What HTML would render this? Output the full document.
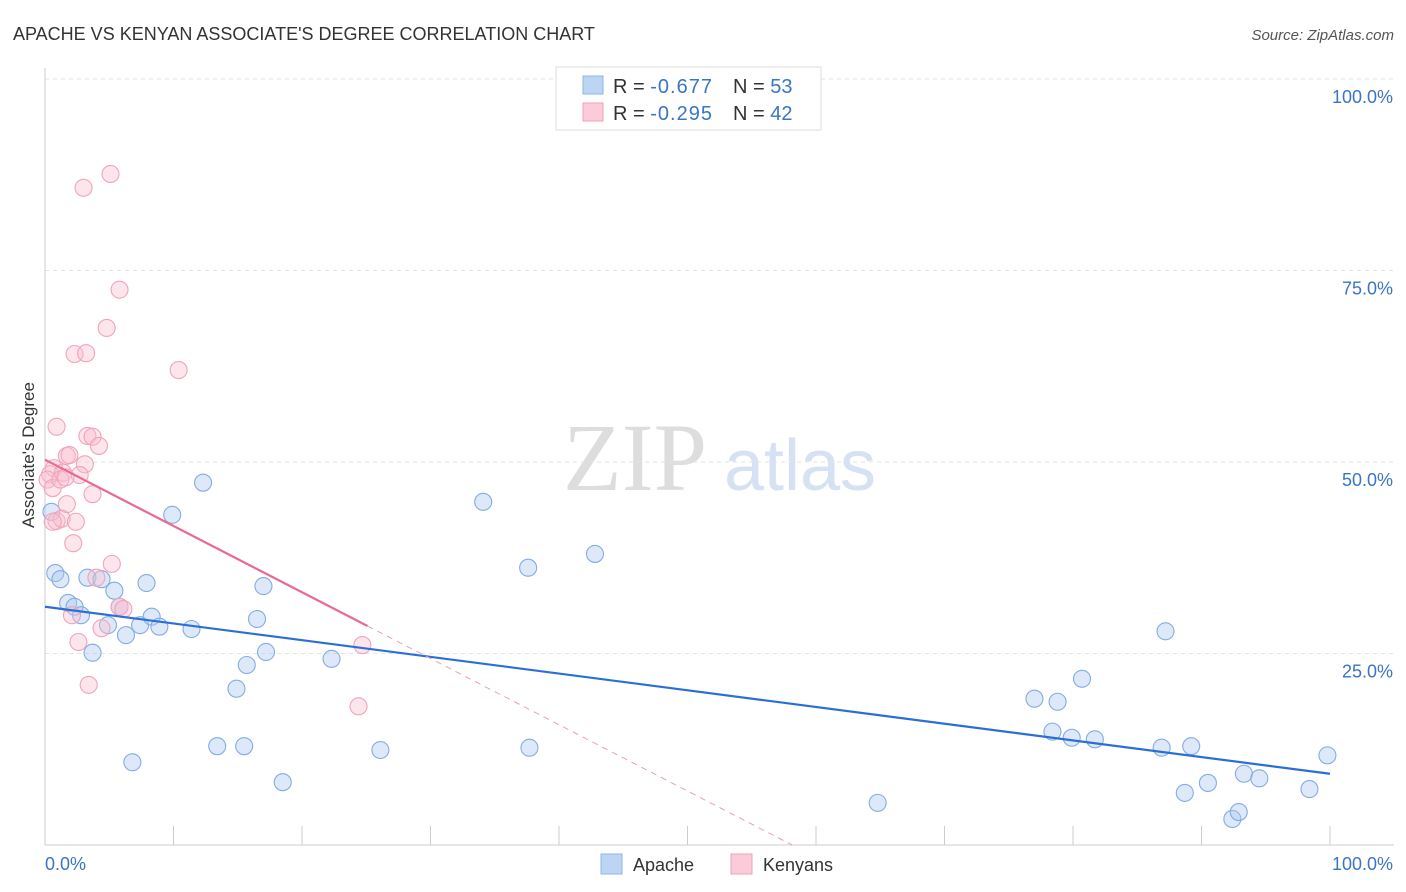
<!DOCTYPE html>
<html><head><meta charset="utf-8">
<style>
body{margin:0;background:#fff;font-family:"Liberation Sans",sans-serif;}
#wrap{position:relative;width:1406px;height:892px;overflow:hidden;}
</style></head>
<body><div id="wrap">
<svg id="svg" width="1406" height="892" xmlns="http://www.w3.org/2000/svg">
<text x="13" y="40" font-size="18" fill="#333">APACHE VS KENYAN ASSOCIATE'S DEGREE CORRELATION CHART</text>
<text x="1394" y="40" font-size="15" fill="#555" font-style="italic" text-anchor="end">Source: ZipAtlas.com</text>
<text x="635" y="490" font-size="96" fill="#ddd" font-family="Liberation Serif, serif" text-anchor="middle">ZIP</text>
<text x="800" y="490" font-size="72" fill="#d6e2f3" text-anchor="middle">atlas</text>
<text transform="translate(34,455) rotate(-90)" font-size="17" fill="#333" text-anchor="middle">Associate's Degree</text>
<g id="grid"></g><g id="pts"></g><g id="lines"></g>
<g>
<rect x="556" y="67" width="265" height="63" fill="#fff" stroke="#ddd"/>
<rect x="583" y="76" width="20" height="18" fill="#bcd5f5" stroke="#8fb4e6"/>
<rect x="583" y="103" width="20" height="18" fill="#fbcbd9" stroke="#f0a0b8"/>
<text x="613" y="93" font-size="20" fill="#333">R = <tspan fill="#3a75c4" letter-spacing="1">-0.677</tspan></text>
<text x="733" y="93" font-size="20" fill="#333">N = <tspan fill="#3a75c4">53</tspan></text>
<text x="613" y="120" font-size="20" fill="#333">R = <tspan fill="#3a75c4" letter-spacing="1">-0.295</tspan></text>
<text x="733" y="120" font-size="20" fill="#333">N = <tspan fill="#3a75c4">42</tspan></text>
</g>
<g>
<rect x="601" y="854" width="21" height="20" fill="#bcd5f5" stroke="#8fb4e6"/>
<text x="633" y="871" font-size="18" fill="#333">Apache</text>
<rect x="731" y="854" width="21" height="20" fill="#fbcbd9" stroke="#f0a0b8"/>
<text x="763" y="871" font-size="18" fill="#333">Kenyans</text>
</g>
</svg></div>
<script>
const yTicks=[25,50,75,100];
const yTickLabels=["25.0%","50.0%","75.0%","100.0%"];
const apacheX=[0.5,0.8,1.2,1.8,2.3,2.8,3.7,3.3,4.4,4.9,5.4,5.8,6.3,6.8,7.4,7.9,8.3,8.9,9.9,11.4,12.3,13.4,14.9,15.5,15.7,16.5,17.0,17.2,18.5,22.3,26.1,34.1,37.6,37.7,42.8,64.8,77.0,78.4,78.8,79.9,80.7,81.7,86.9,87.2,88.7,89.2,90.5,92.4,92.9,93.3,94.5,98.4,99.8];
const apacheY=[43.5,35.5,34.7,31.6,31.1,30.0,25.1,34.9,34.7,28.7,33.2,31.1,27.4,10.8,28.7,34.2,29.8,28.5,43.1,28.2,47.3,12.9,20.4,12.9,23.5,29.5,33.8,25.2,8.2,24.3,12.4,44.8,36.2,12.7,38.0,5.5,19.1,14.8,18.7,14.0,21.7,13.8,12.7,27.9,6.8,12.9,8.1,3.4,4.3,9.3,8.7,7.3,11.7];
const kenyanX=[3.0,5.1,5.8,4.8,2.3,3.2,10.4,0.9,3.3,3.7,4.2,1.7,1.9,3.1,0.7,0.4,1.4,2.7,0.2,0.6,1.2,1.6,3.7,1.7,0.9,1.3,2.4,2.2,5.2,4.0,5.8,6.1,2.1,4.4,2.6,3.4,24.7,24.4,0.6];
const kenyanY=[85.8,87.6,72.5,67.5,64.1,64.2,62.0,54.6,53.4,53.3,52.1,50.8,50.9,49.7,49.2,48.4,48.6,48.3,47.7,46.6,47.7,48.0,45.8,44.5,42.3,42.6,42.2,39.4,36.7,34.9,31.1,30.8,30.0,28.3,26.5,20.9,26.1,18.1,42.2];
const apacheTrend=[31.1,9.3];   // y at x=0, x=100
const kenyanTrend=[50.3,-0.865,25.1]; // intercept, slope, solid end x
const NS="http://www.w3.org/2000/svg";
const X=v=>45+v*12.85, Y=v=>845-v*7.66;
function mk(t,a,p){const e=document.createElementNS(NS,t);for(const k in a)e.setAttribute(k,a[k]);p.appendChild(e);return e;}
const g=document.getElementById('grid');
yTicks.forEach((t,i)=>{
 const l=mk('line',{x1:45,x2:1394,y1:Y(t),y2:Y(t),stroke:'#e3e3e3','stroke-dasharray':'4,4'},g);
 
 const tx=mk('text',{x:1393,y:Y(t)+24,'font-size':18,fill:'#3a75c4','text-anchor':'end'},g);
 tx.textContent=yTickLabels[i];
 
});
mk('line',{x1:45,x2:45,y1:68,y2:845,stroke:'#ccc'},g);
mk('line',{x1:45,x2:1394,y1:845,y2:845,stroke:'#ccc'},g);
for(let i=0;i<=10;i++){const l=mk('line',{x1:X(i*10),x2:X(i*10),y1:826,y2:845,stroke:'#ccc'},g);
 }
let t1=mk('text',{x:45,y:870,'font-size':18,fill:'#3a75c4'},g);t1.textContent='0.0%';

let t2=mk('text',{x:1393,y:870,'font-size':18,fill:'#3a75c4','text-anchor':'end'},g);t2.textContent='100.0%';

const p=document.getElementById('pts');
apacheX.forEach((x,i)=>{const c=mk('circle',{cx:X(x),cy:Y(apacheY[i]),r:8.5,fill:'rgba(170,200,240,0.4)',stroke:'#84ace2','stroke-width':1.1},p);
 });
kenyanX.forEach((x,i)=>{const c=mk('circle',{cx:X(x),cy:Y(kenyanY[i]),r:8.5,fill:'rgba(250,190,208,0.4)',stroke:'#f0a4bb','stroke-width':1.1},p);
 });
const L=document.getElementById('lines');
let a=mk('line',{x1:X(0),y1:Y(apacheTrend[0]),x2:X(100),y2:Y(apacheTrend[1]),stroke:'#2a6fd6','stroke-width':2.2},L);

const kz=-kenyanTrend[0]/kenyanTrend[1], ke=kenyanTrend[2];
let k=mk('line',{x1:X(0),y1:Y(kenyanTrend[0]),x2:X(ke),y2:Y(kenyanTrend[0]+kenyanTrend[1]*ke),stroke:'#e86a92','stroke-width':2.2},L);

let kd=mk('line',{x1:X(ke),y1:Y(kenyanTrend[0]+kenyanTrend[1]*ke),x2:X(kz),y2:Y(0),stroke:'#e8a0b8','stroke-width':1,'stroke-dasharray':'6,5'},L);

</script>
</body></html>
